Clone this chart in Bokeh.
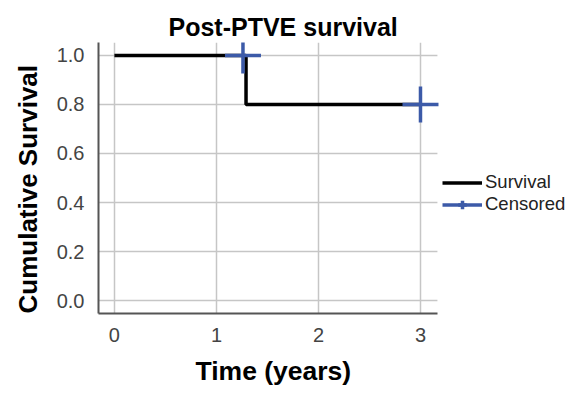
from bokeh.plotting import figure
from bokeh.models import FixedTicker, NumeralTickFormatter, Legend, LegendItem, Range1d, Title
from bokeh.embed import file_html
from bokeh.resources import INLINE

# Data
times = [0.0, 1.29, 3.0]
survival = [1.0, 0.8, 0.8]
censor_times = [1.26, 3.0]
censor_surv = [1.0, 0.8]
x_ticks = [0, 1, 2, 3]
y_ticks = [0.0, 0.2, 0.4, 0.6, 0.8, 1.0]

# axis extents (data units)
X_MIN, X_MAX = -0.156, 3.166
Y_MIN, Y_MAX = -0.053, 1.053
X_VIEW_MAX = 4.49  # frame extends right to hold legend

FONT = "Liberation Sans"
BLUE = "#3c5aa8"
GRID = "#c6c6c6"

p = figure(width=572, height=396, output_backend="svg", toolbar_location=None,
           x_range=Range1d(X_MIN, X_VIEW_MAX), y_range=Range1d(Y_MIN, Y_MAX),
           min_border_left=95, min_border_right=0, min_border_top=42, min_border_bottom=83)
p.outline_line_color = None

p.title.text = "Post-PTVE survival"
p.title.text_font = FONT
p.title.text_font_size = "25px"
p.title.text_font_style = "bold"
p.title.text_color = "black"
p.title.align = "left"
p.title.offset = 70
p.title.standoff = 4

# horizontal grid lines limited to the axis extent
p.segment(x0=[X_MIN] * len(y_ticks), x1=[X_MAX] * len(y_ticks), y0=y_ticks, y1=y_ticks,
          line_color=GRID, line_width=1.5)

r_line = p.step(times, survival, mode="after", line_color="black", line_width=3.5)
r_cens = p.scatter(censor_times, censor_surv, marker="cross", size=36, line_color=BLUE,
                   line_width=3.5)
r_cens_leg = p.line([float("nan")], [float("nan")], line_color=BLUE, line_width=3.5)

for ax, ticks in ((p.xaxis, x_ticks), (p.yaxis, y_ticks)):
    ax.ticker = FixedTicker(ticks=ticks)
    ax.major_tick_line_color = None
    ax.minor_tick_line_color = None
    ax.axis_line_color = "#555555"
    ax.axis_line_width = 2
    ax.major_label_text_font = FONT
    ax.major_label_text_font_size = "20px"
    ax.major_label_text_color = "#444444"

p.xaxis.bounds = (X_MIN, X_MAX)
p.yaxis.formatter = NumeralTickFormatter(format="0.0")
p.xaxis.major_label_standoff = 8
p.yaxis.major_label_standoff = 8

xlab = Title(text="Time (years)", text_font=FONT, text_font_size="26.5px",
             text_font_style="bold", text_color="black", align="left", offset=97, standoff=19)
ylab = Title(text="Cumulative Survival", text_font=FONT, text_font_size="26px",
             text_font_style="bold", text_color="black", align="left", offset=0, standoff=21)
p.add_layout(xlab, "below")
p.add_layout(ylab, "left")

p.xgrid.ticker = FixedTicker(ticks=x_ticks)
p.xgrid.grid_line_color = GRID
p.xgrid.grid_line_width = 1.5
p.ygrid.visible = False

legend = Legend(items=[LegendItem(label="Survival", renderers=[r_line]),
                       LegendItem(label="Censored", renderers=[r_cens_leg, r_cens])],
                location=(344, 98), orientation="vertical")
legend.background_fill_alpha = 0
legend.border_line_color = None
legend.label_text_font = FONT
legend.label_text_font_size = "18.5px"
legend.label_text_color = "#222222"
legend.glyph_width = 40
legend.glyph_height = 21
legend.label_height = 21
legend.spacing = 0
legend.padding = 0
legend.margin = 0
legend.label_standoff = 3
p.add_layout(legend, "center")

open("out.html", "w").write(file_html(p, INLINE))
